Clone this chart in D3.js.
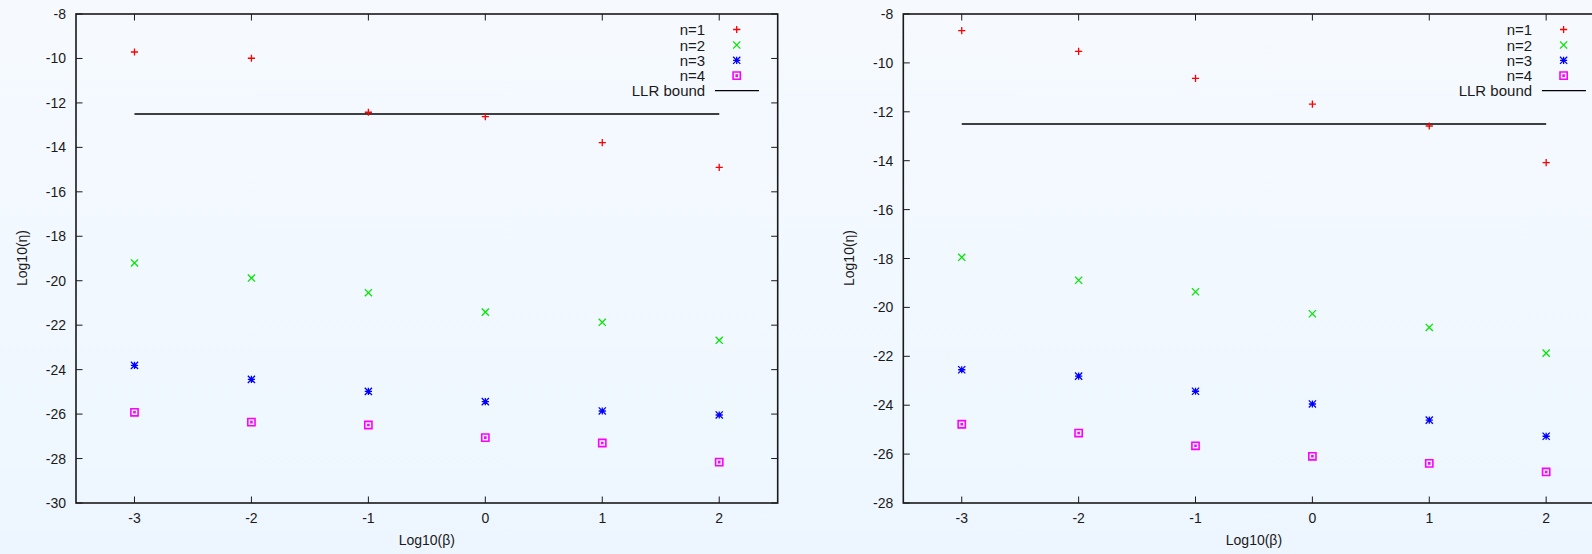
<!DOCTYPE html>
<html lang="en">
<head>
  <meta charset="utf-8">
  <title>Log10(eta) vs Log10(beta)</title>
  <script src="https://d3js.org/d3.v7.min.js"></script>
  <style>
    html, body { margin: 0; padding: 0; }
    body { width: 1592px; height: 554px; overflow: hidden;
           background: linear-gradient(to bottom, #f6faff, #edf6ff); }
    svg text { font-family: "Liberation Sans", Arial, sans-serif; fill: #1a1a1a; }
  </style>
</head>
<body>
<div id="chart"></div>
<script>

// x values (Log10 beta) and tick labels
const betaValues = [-3, -2, -1, 0, 1, 2];
const xTicks = [-3, -2, -1, 0, 1, 2];
const llrBound = -12.5;
const seriesNames = ["n=1", "n=2", "n=3", "n=4"];

// left panel values (Log10 eta)
const leftN1 = [-9.71, -9.99, -12.42, -12.62, -13.79, -14.90];
const leftN2 = [-19.20, -19.88, -20.54, -21.41, -21.87, -22.68];
const leftN3 = [-23.81, -24.44, -24.98, -25.44, -25.86, -26.04];
const leftN4 = [-25.92, -26.36, -26.49, -27.06, -27.30, -28.16];
const leftYTicks = [-8, -10, -12, -14, -16, -18, -20, -22, -24, -26, -28, -30];

// right panel values
const rightN1 = [-8.68, -9.53, -10.63, -11.69, -12.58, -14.08];
const rightN2 = [-17.95, -18.89, -19.36, -20.26, -20.82, -21.87];
const rightN3 = [-22.55, -22.81, -23.43, -23.95, -24.61, -25.27];
const rightN4 = [-24.78, -25.14, -25.66, -26.09, -26.38, -26.73];
const rightYTicks = [-8, -10, -12, -14, -16, -18, -20, -22, -24, -26, -28];

const colors = ["#ff0000", "#00e600", "#0000ff", "#ff00ff"];

// gnuplot-like point types as d3 symbol types
const r = 3.6;
const plusType = { draw(c) { c.moveTo(-r, 0); c.lineTo(r, 0); c.moveTo(0, -r); c.lineTo(0, r); } };
const timesType = { draw(c) { c.moveTo(-r, -r); c.lineTo(r, r); c.moveTo(-r, r); c.lineTo(r, -r); } };
const starType = { draw(c) { plusType.draw(c); timesType.draw(c); } };
const boxType = { draw(c) { c.rect(-r, -r, 2 * r, 2 * r); c.rect(-0.5, -0.5, 1, 1); } };
const symbolTypes = [plusType, timesType, starType, boxType];

const svg = d3.select("#chart").append("svg")
  .attr("width", 1592)
  .attr("height", 554);

function drawPanel(opt) {
  const x = d3.scaleLinear().domain([-3.5, 2.5]).range([opt.left, opt.right]);
  const y = d3.scaleLinear().domain([opt.yTicks[0], opt.yTicks[opt.yTicks.length - 1]]).range([14, 503]);

  const g = svg.append("g");

  // frame
  g.append("rect")
    .attr("x", opt.left).attr("y", 14)
    .attr("width", opt.right - opt.left).attr("height", 489)
    .attr("fill", "none").attr("stroke", "#1a1a1a").attr("stroke-width", 1.6);

  // inward ticks on all four sides
  const tl = 6.5;
  opt.yTicks.forEach(function (t) {
    g.append("line").attr("x1", opt.left).attr("x2", opt.left + tl)
      .attr("y1", y(t)).attr("y2", y(t)).attr("stroke", "#1a1a1a");
    g.append("line").attr("x1", opt.right).attr("x2", opt.right - tl)
      .attr("y1", y(t)).attr("y2", y(t)).attr("stroke", "#1a1a1a");
    g.append("text").attr("x", opt.left - 10).attr("y", y(t) + 5)
      .attr("text-anchor", "end").style("font-size", "14px").text(t);
  });
  xTicks.forEach(function (t) {
    g.append("line").attr("x1", x(t)).attr("x2", x(t))
      .attr("y1", 503).attr("y2", 503 - tl).attr("stroke", "#1a1a1a");
    g.append("line").attr("x1", x(t)).attr("x2", x(t))
      .attr("y1", 14).attr("y2", 14 + tl).attr("stroke", "#1a1a1a");
    g.append("text").attr("x", x(t)).attr("y", 523)
      .attr("text-anchor", "middle").style("font-size", "14px").text(t);
  });

  // axis labels
  g.append("text")
    .attr("x", (opt.left + Math.min(opt.right, 1605)) / 2).attr("y", 545)
    .attr("text-anchor", "middle").style("font-size", "14px").text("Log10(β)");
  g.append("text")
    .attr("transform", `translate(${opt.left - 49}, 258) rotate(-90)`)
    .attr("text-anchor", "middle").style("font-size", "14px").text("Log10(η)");

  // LLR bound line
  g.append("line")
    .attr("x1", x(betaValues[0])).attr("x2", x(betaValues[betaValues.length - 1]))
    .attr("y1", y(llrBound)).attr("y2", y(llrBound))
    .attr("stroke", "#000").attr("stroke-width", 1.4);

  // points
  opt.series.forEach(function (vals, i) {
    g.selectAll(null)
      .data(vals.map(function (v, j) { return [betaValues[j], v]; }))
      .join("path")
      .attr("transform", function (d) { return `translate(${x(d[0])},${y(d[1])})`; })
      .attr("d", d3.symbol().type(symbolTypes[i]))
      .attr("fill", "none")
      .attr("stroke", colors[i])
      .attr("stroke-width", i === 3 ? 1.6 : 1.3);
  });

  // legend
  const lx = opt.right - 72.5, sx = opt.right - 41;
  const rowY = [29.5, 45, 60.3, 75.6, 90.6];
  seriesNames.forEach(function (name, i) {
    g.append("text").attr("x", lx).attr("y", rowY[i] + 5.5)
      .attr("text-anchor", "end").style("font-size", "15px").text(name);
    g.append("path")
      .attr("transform", `translate(${sx},${rowY[i]})`)
      .attr("d", d3.symbol().type(symbolTypes[i]))
      .attr("fill", "none").attr("stroke", colors[i])
      .attr("stroke-width", i === 3 ? 1.6 : 1.3);
  });
  g.append("text").attr("x", lx).attr("y", rowY[4] + 5.5)
    .attr("text-anchor", "end").style("font-size", "15px").text("LLR bound");
  g.append("line")
    .attr("x1", opt.right - 62.7).attr("x2", opt.right - 18.7)
    .attr("y1", rowY[4]).attr("y2", rowY[4])
    .attr("stroke", "#000").attr("stroke-width", 1.4);
}

drawPanel({ left: 76, right: 777.7, yTicks: leftYTicks, series: [leftN1, leftN2, leftN3, leftN4] });
drawPanel({ left: 903.3, right: 1604.6, yTicks: rightYTicks, series: [rightN1, rightN2, rightN3, rightN4] });

</script>
</body>
</html>
